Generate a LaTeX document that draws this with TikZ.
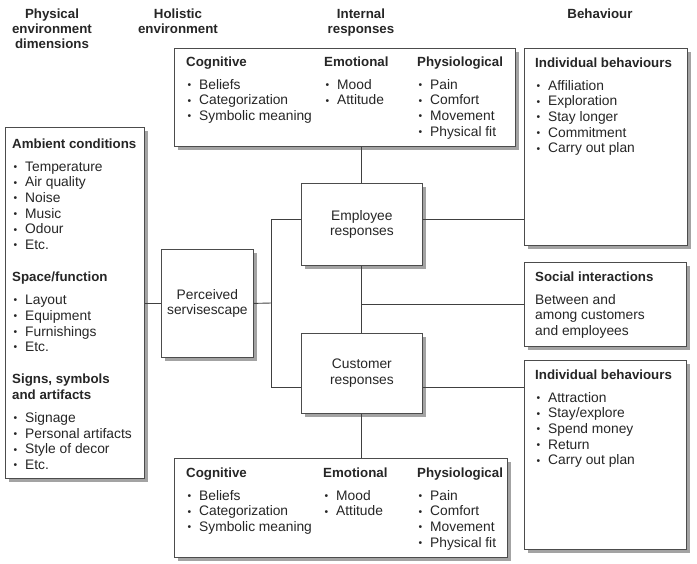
\documentclass[tikz,border=0pt]{standalone}
\usepackage{fontspec}
\setmainfont{Liberation Sans}
\usepackage{tikz}
\usetikzlibrary{positioning, calc, shadows}

\newcommand{\body}{\fontsize{13.8}{15.7}\selectfont}
\newcommand{\hfont}{\fontsize{13.3}{15}\selectfont\bfseries}
\newcommand{\hd}[1]{{\fontsize{13.3}{15.7}\selectfont\bfseries #1}}
\newcommand{\itm}{\hspace*{1.5pt}\makebox[11.5pt][l]{\raisebox{0.8pt}{\scalebox{0.75}{\textbullet}}}}

\begin{document}
\begin{tikzpicture}[
  x=1pt,
  y=-1pt,
  font=\body,
  text=black!85,
  panel/.style={draw=black!70, line width=0.8pt, fill=white, anchor=north west, inner sep=0pt, align=center,
    drop shadow={shadow xshift=3.5pt, shadow yshift=-3.5pt, fill=black!45, opacity=0.8}},
  txt/.style={anchor=north west, inner sep=0pt, align=left},
  head/.style={anchor=north, inner sep=0pt, align=center, font=\hfont},
  link/.style={draw=black!75, line width=0.9pt}
]
\useasboundingbox (0,0) rectangle (697,564);

% Column headers
\node[head] (hphys) at (52,9) {Physical\\environment\\dimensions};
\node[head] (hhol) at (178,9) {Holistic\\environment};
\node[head] (hint) at (361,9) {Internal\\responses};
\node[head] (hbeh) at (600,9) {Behaviour};

% Boxes
\node[panel, minimum width=341, minimum height=98] (intop) at (174,48) {};
\node[panel, minimum width=163, minimum height=197] (behtop) at (524,48) {};
\node[panel, minimum width=139, minimum height=351] (ambient) at (5,127) {};
\node[panel, minimum width=92, minimum height=108] (percv) at (161,249) {Perceived\\servisescape};
\node[panel, minimum width=121, minimum height=82] (employee) at (301,183) {Employee\\responses};
\node[panel, minimum width=121, minimum height=80] (customer) at (301,333) {Customer\\responses};
\node[panel, minimum width=162, minimum height=84] (social) at (524,262) {};
\node[panel, minimum width=162, minimum height=189] (behbot) at (524,360) {};
\node[panel, minimum width=333, minimum height=99] (inbot) at (174,458) {};

% Box contents
\node[txt] (ambtxt) at (12,138.3) {\hd{Ambient conditions}\\[7.3pt]
  \itm Temperature\\ \itm Air quality\\ \itm Noise\\ \itm Music\\ \itm Odour\\ \itm Etc.\\[16.3pt]
  \hd{Space/function}\\[7.3pt]
  \itm Layout\\ \itm Equipment\\ \itm Furnishings\\ \itm Etc.\\[16.3pt]
  \hd{Signs, symbols}\\ \hd{and artifacts}\\[7.3pt]
  \itm Signage\\ \itm Personal artifacts\\ \itm Style of decor\\ \itm Etc.};

\node[txt] (cogtop) at (186,56.3) {\hd{Cognitive}\\[7.3pt] \itm Beliefs\\ \itm Categorization\\ \itm Symbolic meaning};
\node[txt] (emotop) at (324,56.3) {\hd{Emotional}\\[7.3pt] \itm Mood\\ \itm Attitude};
\node[txt] (phytop) at (417,56.3) {\hd{Physiological}\\[7.3pt] \itm Pain\\ \itm Comfort\\ \itm Movement\\ \itm Physical fit};

\node[txt] (cogbot) at (186,467.3) {\hd{Cognitive}\\[7.3pt] \itm Beliefs\\ \itm Categorization\\ \itm Symbolic meaning};
\node[txt] (emobot) at (323,467.3) {\hd{Emotional}\\[7.3pt] \itm Mood\\ \itm Attitude};
\node[txt] (phybot) at (417,467.3) {\hd{Physiological}\\[7.3pt] \itm Pain\\ \itm Comfort\\ \itm Movement\\ \itm Physical fit};

\node[txt] (indtop) at (535,57.3) {\hd{Individual behaviours}\\[7.3pt]
  \itm Affiliation\\ \itm Exploration\\ \itm Stay longer\\ \itm Commitment\\ \itm Carry out plan};
\node[txt] (soctxt) at (535,271.3) {\hd{Social interactions}\\[7.3pt]
  Between and\\ among customers\\ and employees};
\node[txt] (indbot) at (535,369.3) {\hd{Individual behaviours}\\[7.3pt]
  \itm Attraction\\ \itm Stay/explore\\ \itm Spend money\\ \itm Return\\ \itm Carry out plan};

% Connectors
\coordinate (split) at (271.5,303);
\coordinate (ey) at ([yshift=4.5pt]employee.east);
\coordinate (eyw) at ([yshift=4.5pt]employee.west);
\coordinate (cy) at ([yshift=-14pt]customer.east);
\coordinate (cyw) at ([yshift=-14pt]customer.west);

\draw[link] (ambient.east |- percv.west) -- (percv.west);
\draw[link] (percv.east) -- (split);
\draw[link] (eyw) -| (split) |- (cyw);
\draw[link] (employee.north) -- (employee.north |- intop.south);
\draw[link] (employee.south) -- (customer.north);
\draw[link] (social.west -| employee.south) -- (social.west);
\draw[link] (ey) -- (ey -| behtop.west);
\draw[link] (cy) -- (cy -| behbot.west);
\draw[link] (customer.south) -- (customer.south |- inbot.north);

\end{tikzpicture}
\end{document}
